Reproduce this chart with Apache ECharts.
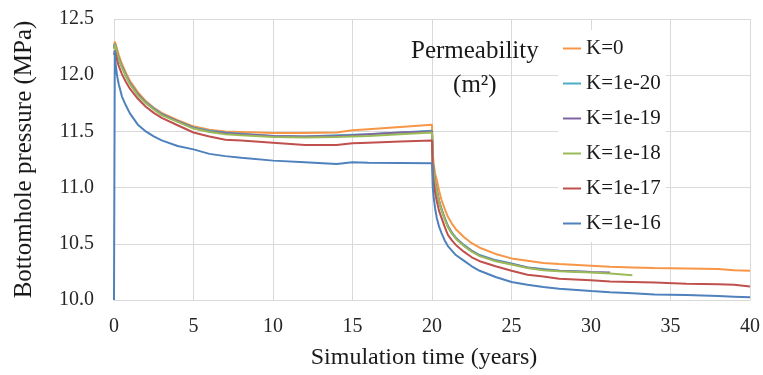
<!DOCTYPE html>
<html>
<head>
<meta charset="utf-8">
<script src="https://cdn.jsdelivr.net/npm/echarts@6/dist/echarts.min.js"></script>
<style>
html,body{margin:0;padding:0;background:#fff;}
#chart{width:763px;height:375px;}
</style>
</head>
<body>
<div id="chart"></div>
<script>
// Simulation time (years)
const years = [0, 0.05, 0.1, 0.2, 0.3, 0.5, 0.75, 1, 1.5, 2, 2.5, 3, 4, 5, 6, 7, 8, 10, 12, 14, 15, 16, 18, 20,
  20.05, 20.1, 20.2, 20.3, 20.45, 20.6, 20.8, 21, 21.25, 21.5, 22, 22.5, 23, 24, 25,
  26, 27, 28, 30, 31.2, 32.6, 34, 36, 38, 39, 40];

const seriesNames = ['K=0', 'K=1e-20', 'K=1e-19', 'K=1e-18', 'K=1e-17', 'K=1e-16'];

// Bottomhole pressure (MPa)
const pK0 = [12.25, 12.30, 12.28, 12.23, 12.18, 12.10, 12.02, 11.95, 11.85, 11.77, 11.71, 11.665, 11.60, 11.545, 11.515, 11.50, 11.495, 11.485, 11.485, 11.49, 11.51, 11.52, 11.54, 11.56,
  11.30, 11.22, 11.12, 11.07, 10.97, 10.89, 10.81, 10.74, 10.68, 10.63, 10.56, 10.505, 10.465, 10.41, 10.37,
  10.35, 10.33, 10.32, 10.305, 10.295, 10.29, 10.285, 10.28, 10.275, 10.265, 10.26];
const pK20 = [12.24, 12.28, 12.26, 12.20, 12.15, 12.08, 12.00, 11.93, 11.83, 11.76, 11.705, 11.655, 11.59, 11.535, 11.505, 11.49, 11.48, 11.46, 11.455, 11.465, 11.47, 11.475, 11.49, 11.505,
  11.23, 11.15, 11.05, 10.98, 10.88, 10.81, 10.73, 10.66, 10.60, 10.555, 10.49, 10.44, 10.40, 10.355, 10.325,
  10.29, 10.275, 10.26, 10.25, null, null, null, null, null, null, null];
const pK19 = [12.24, 12.27, 12.255, 12.195, 12.145, 12.075, 11.995, 11.93, 11.83, 11.755, 11.70, 11.65, 11.59, 11.53, 11.50, 11.485, 11.475, 11.46, 11.455, 11.46, 11.465, 11.475, 11.49, 11.50,
  11.23, 11.15, 11.045, 10.975, 10.875, 10.805, 10.725, 10.655, 10.595, 10.55, 10.485, 10.435, 10.395, 10.35, 10.32,
  10.29, 10.27, 10.26, 10.25, 10.245, null, null, null, null, null, null];
const pK18 = [12.23, 12.27, 12.25, 12.19, 12.14, 12.07, 11.99, 11.92, 11.82, 11.75, 11.695, 11.645, 11.585, 11.525, 11.495, 11.475, 11.465, 11.45, 11.445, 11.45, 11.455, 11.46, 11.475, 11.49,
  11.22, 11.14, 11.04, 10.97, 10.87, 10.80, 10.72, 10.65, 10.59, 10.545, 10.48, 10.43, 10.39, 10.345, 10.315,
  10.285, 10.265, 10.255, 10.245, 10.235, 10.22, null, null, null, null, null];
const pK17 = [12.18, 12.22, 12.19, 12.13, 12.08, 12.01, 11.94, 11.88, 11.79, 11.72, 11.665, 11.62, 11.555, 11.49, 11.455, 11.425, 11.42, 11.40, 11.38, 11.38, 11.395, 11.40, 11.41, 11.42,
  11.13, 11.05, 10.95, 10.88, 10.79, 10.73, 10.65, 10.58, 10.53, 10.49, 10.43, 10.38, 10.345, 10.30, 10.26,
  10.225, 10.21, 10.19, 10.175, 10.165, 10.16, 10.155, 10.145, 10.14, 10.135, 10.12];
const pK16 = [10.0, 12.22, 12.10, 11.99, 11.92, 11.81, 11.73, 11.66, 11.56, 11.50, 11.455, 11.42, 11.37, 11.34, 11.30, 11.28, 11.265, 11.24, 11.225, 11.21, 11.225, 11.22, 11.218, 11.216,
  11.00, 10.92, 10.81, 10.73, 10.65, 10.595, 10.53, 10.48, 10.44, 10.40, 10.35, 10.30, 10.26, 10.205, 10.16,
  10.135, 10.115, 10.10, 10.08, 10.07, 10.06, 10.05, 10.045, 10.035, 10.03, 10.025];

const xTicks = [0, 5, 10, 15, 20, 25, 30, 35, 40];
const yTicks = [10.0, 10.5, 11.0, 11.5, 12.0, 12.5];

const allValues = [pK0, pK20, pK19, pK18, pK17, pK16];
const colors = ['#F79646', '#4BACC6', '#8064A2', '#9BBB59', '#C0504D', '#4F81BD'];
const FONT = '"Liberation Serif", "Times New Roman", serif';

function pairs(vals) {
  const out = [];
  for (let i = 0; i < years.length; i++) {
    if (vals[i] !== null && vals[i] !== undefined) out.push([years[i], vals[i]]);
  }
  return out;
}

const chart = echarts.init(document.getElementById('chart'), null, {renderer: 'canvas'});
chart.setOption({
  animation: false,
  backgroundColor: '#ffffff',
  color: colors,
  grid: {left: 114, right: 13, top: 19, bottom: 74, containLabel: false},
  xAxis: {
    type: 'value',
    min: xTicks[0], max: xTicks[xTicks.length - 1], interval: 5,
    name: 'Simulation time (years)',
    nameLocation: 'middle',
    nameGap: 46,
    nameTextStyle: {fontFamily: FONT, fontSize: 24, color: '#1a1a1a', padding: [0, 16, 0, 0]},
    axisLine: {show: true, lineStyle: {color: '#d9d9d9', width: 1}},
    axisTick: {show: false},
    axisLabel: {fontFamily: FONT, fontSize: 20, color: '#262626', margin: 17},
    splitLine: {show: true, lineStyle: {color: '#d9d9d9', width: 1}}
  },
  yAxis: {
    type: 'value',
    min: yTicks[0], max: yTicks[yTicks.length - 1], interval: 0.5,
    name: 'Bottomhole pressure (MPa)',
    nameLocation: 'middle',
    nameRotate: 90,
    nameGap: 77,
    nameTextStyle: {fontFamily: FONT, fontSize: 25, color: '#1a1a1a'},
    axisLine: {show: false},
    axisTick: {show: false},
    axisLabel: {fontFamily: FONT, fontSize: 20, color: '#262626', margin: 20,
      formatter: v => v.toFixed(1)},
    splitLine: {show: true, lineStyle: {color: '#d9d9d9', width: 1}}
  },
  legend: {
    orient: 'vertical',
    left: 558, top: 30,
    padding: [8, 5, 8, 5],
    backgroundColor: '#ffffff',
    itemWidth: 18, itemHeight: 2,
    itemGap: 14,
    icon: 'rect',
    textStyle: {fontFamily: FONT, fontSize: 21, color: '#1a1a1a', lineHeight: 20},
    data: seriesNames
  },
  graphic: [{
    type: 'text',
    left: 411, top: 34,
    style: {
      text: 'Permeability\n(m²)',
      font: '25px ' + FONT,
      fill: '#1a1a1a',
      textAlign: 'center',
      lineHeight: 34
    },
    z: 100
  }],
  series: seriesNames.map((n, i) => ({
    name: n,
    type: 'line',
    data: pairs(allValues[i]),
    symbol: 'none',
    showSymbol: false,
    lineStyle: {width: 2, color: colors[i]},
    itemStyle: {color: colors[i]},
    connectNulls: false,
    z: 2 + i
  }))
});
</script>
</body>
</html>
